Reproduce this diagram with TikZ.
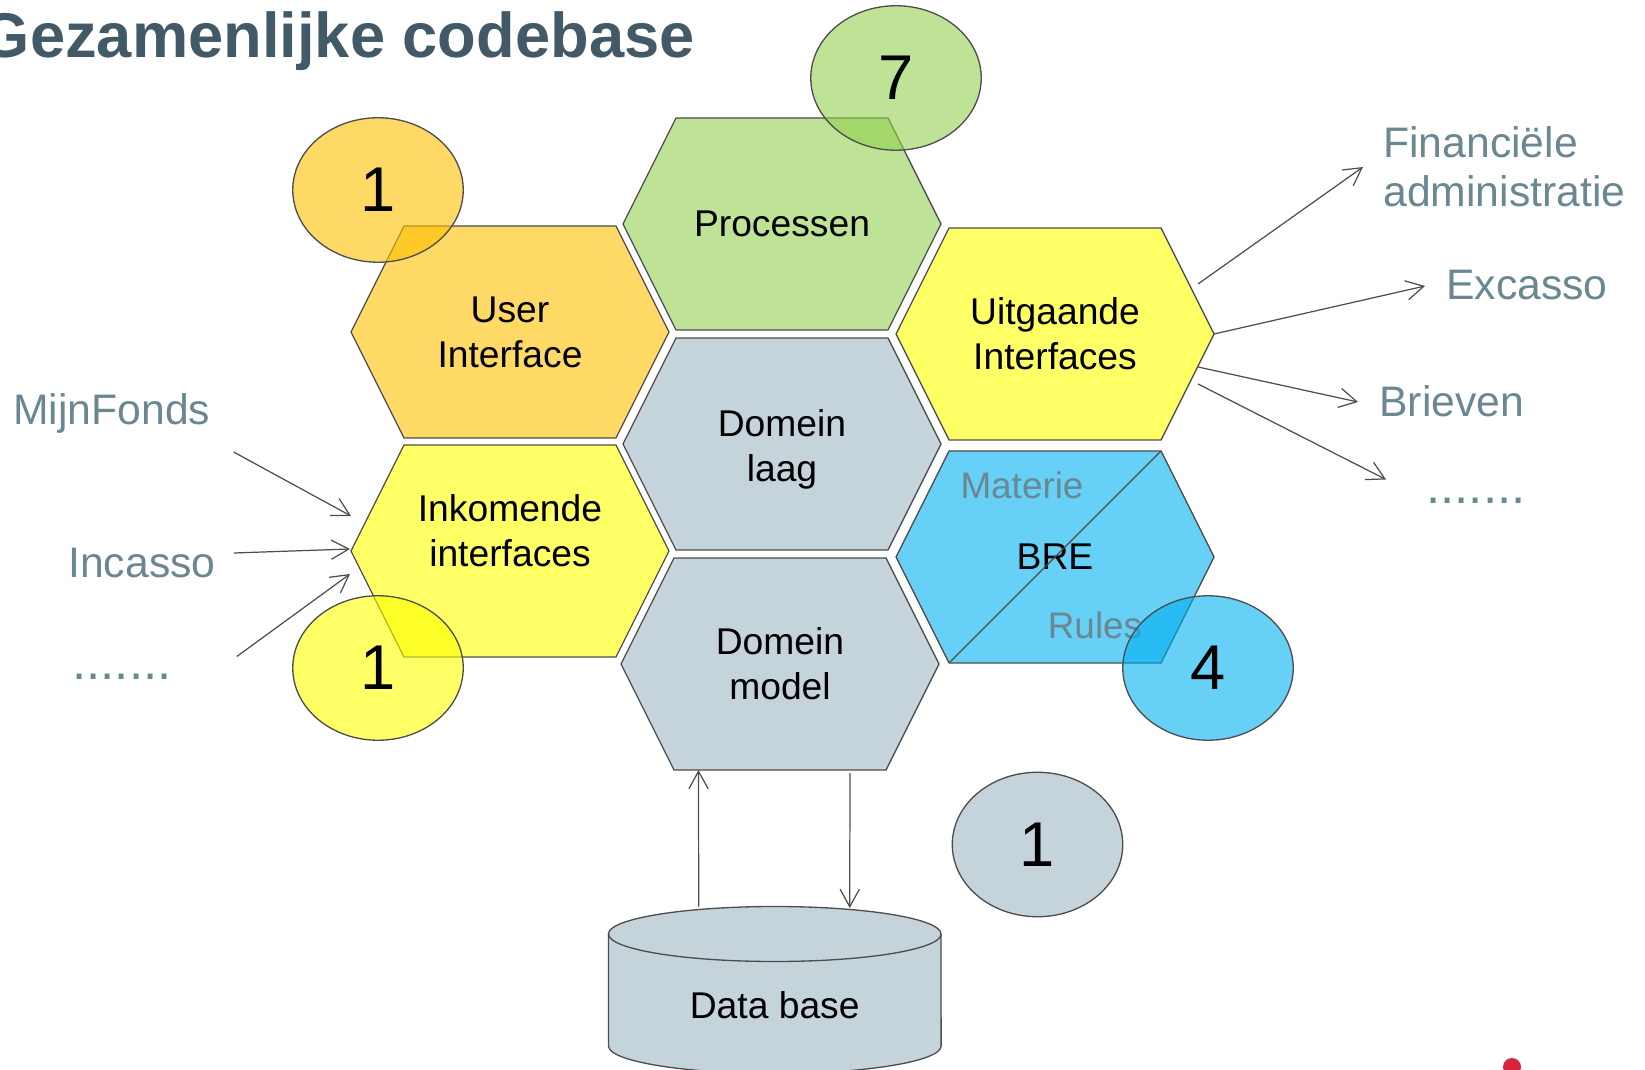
\documentclass[tikz,border=0pt]{standalone}
\usepackage{fontspec}
\setmainfont{Liberation Sans}
\usetikzlibrary{shapes.geometric,arrows.meta,calc}

\definecolor{edge}{RGB}{77,77,77}
\definecolor{titleblue}{RGB}{66,89,104}
\definecolor{labelgray}{RGB}{106,135,146}
\definecolor{uiorange}{RGB}{255,192,0}
\definecolor{inyellow}{RGB}{255,255,0}
\definecolor{procgreen}{RGB}{146,208,80}
\definecolor{brecyan}{RGB}{0,176,240}
\definecolor{domgray}{RGB}{197,211,219}
\definecolor{logored}{RGB}{214,36,62}

\tikzset{
  hextext/.style={inner sep=0pt, align=center, font=\fontsize{21.2}{25.5}\selectfont},
  count/.style={ellipse, draw=edge, line width=0.75pt, fill=#1, fill opacity=0.6,
    text opacity=1, minimum width=3.41cm, minimum height=2.89cm, inner sep=0pt,
    font=\fontsize{36}{36}\selectfont},
  side/.style={text=labelgray, font=\fontsize{24.3}{28.1}\selectfont, align=left, inner sep=0pt},
  dots/.style={text=labelgray, font=\fontsize{29}{29}\selectfont, inner sep=0pt},
  arr/.style={draw=edge, line width=0.7pt, -{Straight Barb[length=10pt,width=11pt]}},
}

% flat hexagon: [text shift] name, centre, colour, text
\newcommand\hexa[5][0]{%
  \filldraw[fill=#4, draw=edge, line width=0.75pt, line join=round]
    (#3) ++(-159,0) coordinate (#2-w) -- ++(53,-106) -- ++(212,0) coordinate (#2-ne)
    -- ++(53,106) coordinate (#2-e) -- ++(-53,106) -- ++(-212,0) coordinate (#2-sw) -- cycle;
  \coordinate (#2-s) at ($(#3)+(0,106)$);
  \node[hextext] (#2) at ($(#3)+(0,#1)$) {#5};
}

\begin{document}
\begin{tikzpicture}[x=0.02cm, y=-0.02cm]
\useasboundingbox (0,0) rectangle (1645,1070);

\node[anchor=base east, inner sep=0pt, text=titleblue,
  font=\fontsize{36}{36}\selectfont\bfseries] (title) at (695,58) {Gezamenlijke codebase};

% honeycomb
\hexa{ui}{510,332}{uiorange!60}{User\\Interface}
\hexa[-20]{inko}{510,551}{inyellow!60}{Inkomende\\interfaces}
\hexa{proc}{782,224}{procgreen!60}{Processen}
\hexa[5]{dl}{782,444}{domgray}{Domein\\laag}
\hexa{dm}{780,664}{domgray}{Domein\\model}
\hexa{uit}{1055,334}{inyellow!60}{Uitgaande\\Interfaces}
\hexa{bre}{1055,557}{brecyan!60}{BRE}
\draw[edge, line width=0.75pt] (bre-sw) -- (bre-ne);
\node[text=labelgray, font=\fontsize{21}{21}\selectfont] (materie) at (1022,485) {Materie};
\node[text=labelgray, font=\fontsize{21}{21}\selectfont] (rules) at (1095,625) {Rules};

% data base
\filldraw[fill=domgray, draw=edge, line width=0.75pt]
  (608.5,934) -- (608.5,1046) arc[start angle=180, end angle=0, x radius=166.3, y radius=27.5]
  -- (941,934) arc[start angle=0, end angle=-180, x radius=166.3, y radius=27.5] -- cycle;
\draw[edge, line width=0.75pt] (608.5,934) arc[start angle=180, end angle=0, x radius=166.3, y radius=27.5];
\node[font=\fontsize{21.2}{21.2}\selectfont] (db) at (774.7,1005) {Data base};
\coordinate (dbtop) at (774.7,906.5);
\draw[arr] ($(dbtop)+(-76,0)$) -- ($(dm-s)+(-81.5,0)$);
\draw[arr] ($(dm-s)+(70,3)$) -- ($(dbtop)+(75,1.5)$);

% counters
\node[count=uiorange] (c-ui) at (378,190) {1};
\node[count=inyellow] (c-inko) at (378,668) {1};
\node[count=procgreen] (c-proc) at (896,78) {7};
\node[count=brecyan] (c-bre) at (1208,668) {4};
\node[count=domgray, fill opacity=1] (c-dom) at (1037.5,844.5) {1};

% incoming
\node[side, anchor=base west] (mijn) at (13,425) {MijnFonds};
\node[side, anchor=base west] (inc) at (68,577) {Incasso};
\node[dots, anchor=base west] (dotsl) at (72,679.5) {.......};
\draw[arr] ($(mijn.base east)+(23,27)$) -- ($(inko-w)+(0,-35)$);
\draw[arr] ($(inc.base east)+(18,-24)$) -- ($(inko-w)+(-1,-2)$);
\draw[arr] ($(dotsl.base east)+(65,-23)$) -- ($(inko-w)+(-1,23)$);

% outgoing
\node[side, anchor=west] (fin) at (1383,167) {Financiële\\administratie};
\node[side, anchor=base west] (exc) at (1446,300) {Excasso};
\node[side, anchor=base west] (brv) at (1379,417) {Brieven};
\node[dots, anchor=base west] (dotsr) at (1426,503.5) {.......};
\draw[arr] ($(uit-e)+(-16,-50)$) -- ($(fin.west)+(-20,0)$);
\draw[arr] (uit-e) -- ($(exc.base west)+(-21,-14)$);
\draw[arr] ($(uit-e)+(-16,33)$) -- ($(brv.base west)+(-21,-15)$);
\draw[arr] ($(uit-e)+(-16,50)$) -- ($(dotsr.base west)+(-40,-24)$);

\fill[logored] (1512,1067) circle[radius=9];
\end{tikzpicture}
\end{document}
